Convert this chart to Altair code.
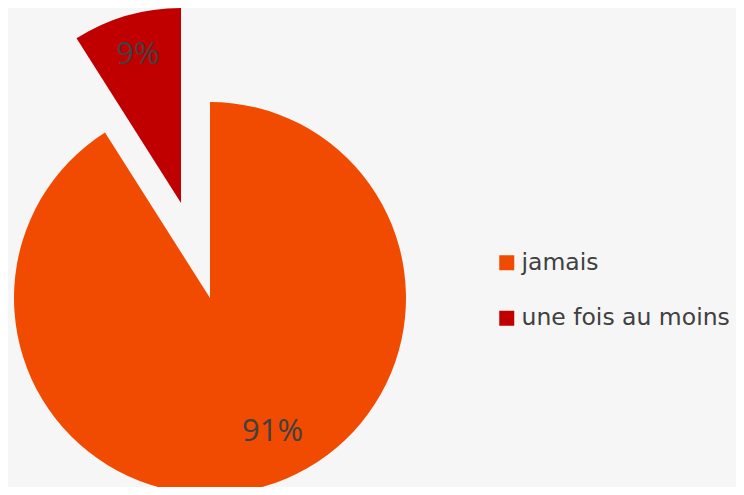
import math
import altair as alt
import pandas as pd

categories = ["jamais", "une fois au moins"]
values = [91, 9]
labels = ["91%", "9%"]
colors = ["#F04B00", "#C00000"]

df = pd.DataFrame({"cat": categories, "value": values, "label": labels})
df["end"] = df["value"].cumsum()
df["start"] = df["end"] - df["value"]
df["mid"] = (df["start"] + df["end"]) / 2

FONT = "Open Sans"
theta_scale = alt.Scale(domain=[0, 100], range=[0, 2 * math.pi])
color = alt.Color(
    "cat:N",
    scale=alt.Scale(domain=categories, range=colors),
    legend=alt.Legend(
        title=None, orient="none", legendX=487, legendY=243,
        symbolType="square", symbolSize=225, symbolStrokeWidth=0,
        labelFontSize=23.5, labelFont="DejaVu Sans", labelColor="#404040",
        rowPadding=30.5, labelOffset=3, labelLimit=0,
    ),
)

base = alt.Chart(df)

main_arc = base.transform_filter(alt.datum.cat == "jamais").mark_arc(radius=196).encode(
    theta=alt.Theta("start:Q", scale=theta_scale),
    theta2="end:Q",
    color=color,
    x=alt.value(202), y=alt.value(290),
)
red_arc = base.transform_filter(alt.datum.cat == "une fois au moins").mark_arc(radius=195).encode(
    theta=alt.Theta("start:Q", scale=theta_scale),
    theta2="end:Q",
    color=color,
    x=alt.value(173), y=alt.value(195),
)
main_text = base.transform_filter(alt.datum.cat == "jamais").mark_text(
    font=FONT, fontSize=31, color="#404040", thetaOffset=-0.154
).encode(
    theta=alt.Theta("mid:Q", scale=theta_scale),
    radius=alt.value(148),
    text="label:N",
    x=alt.value(202), y=alt.value(290),
)
red_text = base.transform_filter(alt.datum.cat == "une fois au moins").mark_text(
    font=FONT, fontSize=31, color="#404040"
).encode(
    theta=alt.Theta("mid:Q", scale=theta_scale),
    radius=alt.value(154),
    text="label:N",
    x=alt.value(173), y=alt.value(195),
)

chart = alt.layer(main_arc, red_arc, main_text, red_text).properties(
    width=728, height=479,
    autosize=alt.AutoSizeParams(type="fit", contains="padding"),
    padding=0,
    background="#F6F6F6",
).configure_view(stroke=None)

chart.save("out.html", embed_options={"renderer": "svg", "actions": False})
